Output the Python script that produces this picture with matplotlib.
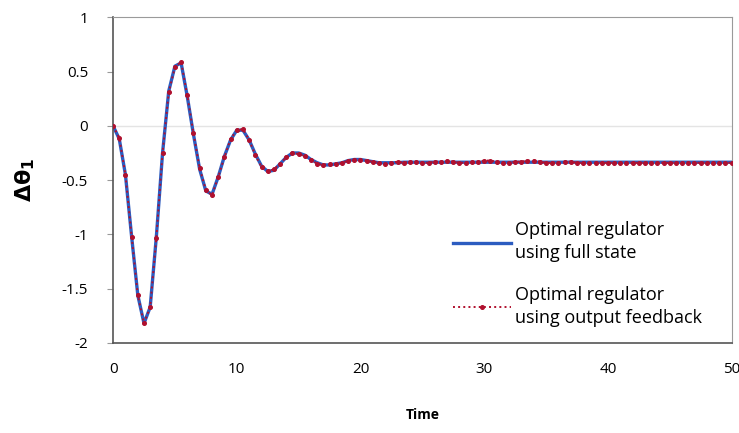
import matplotlib
matplotlib.use("Agg")
import matplotlib.pyplot as plt
import numpy as np

# time samples (step 0.5)
time = np.arange(0, 50.5, 0.5)

full_state = [
    0.00, -0.12, -0.45, -1.02, -1.56, -1.82, -1.67, -1.02, -0.25, 0.32,
    0.55, 0.58, 0.27, -0.08, -0.40, -0.60, -0.63, -0.47, -0.28, -0.13,
    -0.04, -0.04, -0.13, -0.26, -0.37, -0.42, -0.41, -0.35, -0.29, -0.25,
    -0.25, -0.27, -0.31, -0.34, -0.36, -0.36, -0.35, -0.34, -0.32, -0.31,
    -0.31, -0.32, -0.33, -0.34, -0.34, -0.34, -0.34, -0.335, -0.335, -0.335,
    -0.335, -0.335, -0.335, -0.335, -0.335, -0.335, -0.335, -0.335, -0.335, -0.335,
    -0.335, -0.335, -0.335, -0.335, -0.335, -0.335, -0.335, -0.335, -0.335, -0.335,
    -0.335, -0.335, -0.335, -0.335, -0.335, -0.335, -0.335, -0.335, -0.335, -0.335,
    -0.335, -0.335, -0.335, -0.335, -0.335, -0.335, -0.335, -0.335, -0.335, -0.335,
    -0.335, -0.335, -0.335, -0.335, -0.335, -0.335, -0.335, -0.335, -0.335, -0.335,
    -0.335,
]

output_feedback = [
    0.00, -0.11, -0.45, -1.02, -1.56, -1.82, -1.67, -1.03, -0.25, 0.31,
    0.54, 0.59, 0.28, -0.07, -0.39, -0.59, -0.64, -0.47, -0.29, -0.12,
    -0.04, -0.03, -0.13, -0.27, -0.38, -0.42, -0.40, -0.35, -0.29, -0.25,
    -0.26, -0.28, -0.31, -0.35, -0.36, -0.35, -0.35, -0.34, -0.32, -0.31,
    -0.31, -0.32, -0.33, -0.34, -0.35, -0.34, -0.33, -0.34, -0.33, -0.33,
    -0.34, -0.34, -0.33, -0.33, -0.32, -0.33, -0.34, -0.34, -0.33, -0.33,
    -0.32, -0.32, -0.33, -0.34, -0.34, -0.33, -0.33, -0.32, -0.32, -0.33,
    -0.34, -0.34, -0.34, -0.33, -0.33, -0.34, -0.34, -0.34, -0.34, -0.34,
    -0.34, -0.34, -0.34, -0.34, -0.34, -0.34, -0.34, -0.34, -0.34, -0.34,
    -0.34, -0.34, -0.34, -0.34, -0.34, -0.34, -0.34, -0.34, -0.34, -0.34,
    -0.34,
]

legend_labels = ["Optimal regulator\nusing full state",
                 "Optimal regulator\nusing output feedback"]

plt.rcParams['font.family'] = ['Open Sans', 'DejaVu Sans']

fig = plt.figure(figsize=(7.39, 4.33), dpi=100)
ax = fig.add_axes([0.153, 0.208, 0.837, 0.752])

ax.axhline(0, color='#e4e4e4', lw=1, zorder=0)

ax.plot(time, full_state, color='#2c5cc0', lw=2.4, label=legend_labels[0], zorder=2)
ax.plot(time, output_feedback, color='#b0102e', lw=1.4, ls=':', marker='o',
        markersize=2.6, label=legend_labels[1], zorder=3)

ax.set_xlim(0, 50)
ax.set_ylim(-2, 1)
ax.set_xticks([0, 10, 20, 30, 40, 50])
ax.set_yticks([-2, -1.5, -1, -0.5, 0, 0.5, 1])
ax.set_yticklabels(['-2', '-1.5', '-1', '-0.5', '0', '0.5', '1'])

for side in ['top', 'right']:
    ax.spines[side].set_color('#9a9a9a')
for side in ['left', 'bottom']:
    ax.spines[side].set_color('#555555')
    ax.spines[side].set_linewidth(1.2)

ax.tick_params(axis='y', direction='out', length=4, color='#999999',
               labelsize=11, pad=14)
ax.tick_params(axis='x', length=0, labelsize=11, pad=14)

ax.set_xlabel('Time', fontsize=10, fontweight='bold', labelpad=22)
ax.set_ylabel(r'$\mathbf{\Delta\theta_1}$', fontsize=16, labelpad=18)

leg = ax.legend(loc='lower right', bbox_to_anchor=(0.978, 0.0), frameon=False,
                fontsize=13, handlelength=3.2, handletextpad=0.2,
                labelspacing=1.3)
for t in leg.get_texts():
    t.set_linespacing(1.35)

fig.savefig('out.png', dpi=100)
